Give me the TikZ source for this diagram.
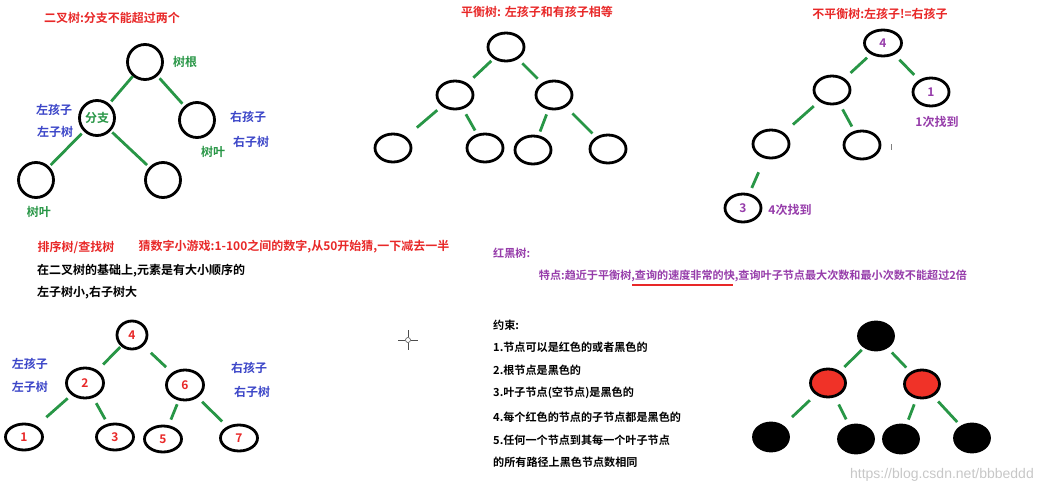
\documentclass[tikz,border=0pt]{standalone}
\usepackage{fontspec}
\newfontfamily\cjk{Noto Sans CJK SC}[BoldFont={Noto Sans CJK SC Bold}]
\newfontfamily\wmfont{Liberation Sans}
\usetikzlibrary{shapes.geometric}
\definecolor{tred}{RGB}{232,40,40}
\definecolor{tblue}{RGB}{60,70,200}
\definecolor{tgreen}{RGB}{40,150,70}
\definecolor{tpurple}{RGB}{150,60,170}
\definecolor{fred}{RGB}{240,50,40}
\tikzset{
  bn/.style={ellipse, draw=black, line width=2.8pt, inner sep=0pt, minimum width=36pt, minimum height=28pt},
  rn/.style={bn, minimum width=35pt, minimum height=35pt},
  ge/.style 2 args={draw=tgreen, line width=2.8pt, shorten <=#1pt, shorten >=#2pt},
  txt/.style={font=\cjk\bfseries\fontsize{12}{14}\selectfont, inner sep=0pt},
  stxt/.style={font=\cjk\bfseries\fontsize{11.1}{13}\selectfont, inner sep=0pt},
  nodetxt/.style={font=\cjk\bfseries\fontsize{12}{14}\selectfont},
}
\begin{document}
\begin{tikzpicture}[x=1pt,y=-1pt]
\useasboundingbox (0,0) rectangle (1037,493);
% ---------- Tree 1: binary tree
\node[txt, text=tred] (t1) at (112,18) {二叉树:分支不能超过两个};
\node[rn] (a0) at (145,62) {};
\node[rn, nodetxt, text=tgreen] (a1) at (97,118) {分支};
\node[rn] (a2) at (197,120) {};
\node[rn] (a3) at (36,180) {};
\node[rn] (a4) at (163,180) {};
\draw[ge={0}{3}] (a0) -- (a1);
\draw[ge={3}{3}] (a0) -- (a2);
\draw[ge={3}{2}] (a1) -- (a3);
\draw[ge={2}{3}] (a1) -- (a4);
\node[txt, text=tgreen] (l1) at (185,62) {树根};
\node[txt, text=tblue] (l2) at (54,110) {左孩子};
\node[txt, text=tblue] (l3) at (55,132) {左子树};
\node[txt, text=tblue] (l4) at (248,117) {右孩子};
\node[txt, text=tblue] (l5) at (251,142) {右子树};
\node[txt, text=tgreen] (l6) at (213,152) {树叶};
\node[txt, text=tgreen] (l7) at (39,212) {树叶};
% ---------- Tree 2: balanced
\node[txt, text=tred] (t2) at (537,12) {平衡树: 左孩子和有孩子相等};
\node[bn] (b0) at (506,47) {};
\node[bn] (b1) at (455,95) {};
\node[bn] (b2) at (554,95) {};
\node[bn] (b3) at (393,148) {};
\node[bn] (b4) at (485,148) {};
\node[bn] (b5) at (533,150) {};
\node[bn] (b6) at (608,149) {};
\draw[ge={3}{8}] (b0) -- (b1);
\draw[ge={6}{6}] (b0) -- (b2);
\draw[ge={6}{14}] (b1) -- (b3);
\draw[ge={6}{4}] (b1) -- (b4);
\draw[ge={5}{4}] (b2) -- (b5);
\draw[ge={9}{5}] (b2) -- (b6);
% ---------- Tree 3: unbalanced
\node[txt, text=tred] (t3) at (880,14) {不平衡树:左孩子!=右孩子};
\node[bn, minimum width=37pt, minimum height=26pt, nodetxt, text=tpurple] (c0) at (883,43) {4};
\node[bn] (c1) at (832,90) {};
\node[bn, nodetxt, text=tpurple] (c2) at (931,92) {1};
\node[bn] (c3) at (771,144) {};
\node[bn] (c4) at (862,145) {};
\node[bn, nodetxt, text=tpurple] (c5) at (743,208) {3};
\draw[ge={5}{8}] (c0) -- (c1);
\draw[ge={7}{7}] (c0) -- (c2);
\draw[ge={7}{12}] (c1) -- (c3);
\draw[ge={6}{5}] (c1) -- (c4);
\draw[ge={15}{6}] (c3) -- (c5);
\node[txt, text=tpurple] (l8) at (937,122) {1次找到};
\node[txt, text=tpurple] (l9) at (790,210) {4次找到};
\draw[gray, line width=1pt] (891,144) -- (891,150);
% ---------- Sorted tree
\node[txt, text=tred] (t4) at (76,247) {排序树/查找树};
\node[txt, text=tred] (t5) at (294,247) {猜数字小游戏:1-100之间的数字,从50开始猜,一下减去一半};
\node[txt, anchor=west] (s1) at (37,271) {在二叉树的基础上,元素是有大小顺序的};
\node[txt, anchor=west] (s2) at (37,293) {左子树小,右子树大};
\node[bn, minimum width=30pt, nodetxt, text=tred] (d0) at (132,335) {4};
\node[bn, minimum width=37pt, minimum height=30pt, nodetxt, text=tred] (d1) at (85,383) {2};
\node[bn, minimum width=37pt, minimum height=30pt, nodetxt, text=tred] (d2) at (185,385) {6};
\node[bn, minimum width=37pt, minimum height=26pt, nodetxt, text=tred] (d3) at (24,437) {1};
\node[bn, minimum width=37pt, minimum height=26pt, nodetxt, text=tred] (d4) at (115,437) {3};
\node[bn, minimum width=37pt, minimum height=26pt, nodetxt, text=tred] (d5) at (163,439) {5};
\node[bn, minimum width=37pt, minimum height=26pt, nodetxt, text=tred] (d6) at (239,438) {7};
\draw[ge={1}{8}] (d0) -- (d1);
\draw[ge={10}{8}] (d0) -- (d2);
\draw[ge={5}{13}] (d1) -- (d3);
\draw[ge={6}{5}] (d1) -- (d4);
\draw[ge={4}{6}] (d2) -- (d5);
\draw[ge={6}{7}] (d2) -- (d6);
\node[txt, text=tblue] (l10) at (30,364) {左孩子};
\node[txt, text=tblue] (l11) at (30,387) {左子树};
\node[txt, text=tblue] (l12) at (249,368) {右孩子};
\node[txt, text=tblue] (l13) at (252,392) {右子树};
% crosshair cursor
\draw[black!70, line width=0.8pt] (408,330) -- (408,337) (408,343) -- (408,350) (398,340) -- (405,340) (411,340) -- (418,340);
\draw[black!70, line width=0.6pt] (408,340) circle (2.5);
% ---------- Red-black tree
\node[stxt, text=tpurple, anchor=west] (r0) at (493,253) {红黑树:};
\node[stxt, text=tpurple] (r1) at (753,276) {特点:趋近于平衡树,查询的速度非常的快,查询叶子节点最大次数和最小次数不能超过2倍};
\draw[tred, line width=1.5pt] (632,285) -- (733,285);
\node[stxt, anchor=west] (k0) at (493,325) {约束:};
\node[stxt, anchor=west] (k1) at (493,347) {1.节点可以是红色的或者黑色的};
\node[stxt, anchor=west] (k2) at (493,370) {2.根节点是黑色的};
\node[stxt, anchor=west] (k3) at (493,393) {3.叶子节点(空节点)是黑色的};
\node[stxt, anchor=west] (k4) at (493,417) {4.每个红色的节点的子节点都是黑色的};
\node[stxt, anchor=west] (k5) at (493,440) {5.任何一个节点到其每一个叶子节点};
\node[stxt, anchor=west] (k6) at (493,462) {的所有路径上黑色节点数相同};
\node[bn, fill=black, minimum width=35pt] (e0) at (876,336) {};
\node[bn, fill=fred, minimum width=35pt] (e1) at (828,383) {};
\node[bn, fill=fred, minimum width=35pt] (e2) at (922,384) {};
\node[bn, fill=black, minimum width=35pt] (e3) at (771,437) {};
\node[bn, fill=black, minimum width=35pt] (e4) at (856,439) {};
\node[bn, fill=black, minimum width=35pt] (e5) at (901,439) {};
\node[bn, fill=black, minimum width=35pt] (e6) at (972,438) {};
\draw[ge={3}{6}] (e0) -- (e1);
\draw[ge={6}{6}] (e0) -- (e2);
\draw[ge={8}{12}] (e1) -- (e3);
\draw[ge={8}{6}] (e1) -- (e4);
\draw[ge={6}{5}] (e2) -- (e5);
\draw[ge={7}{5}] (e2) -- (e6);
\node[font=\wmfont\fontsize{14}{16}\selectfont, text=black!22, inner sep=0pt, anchor=east] (wm) at (1034,475) {https://blog.csdn.net/bbbeddd};
\end{tikzpicture}
\end{document}
